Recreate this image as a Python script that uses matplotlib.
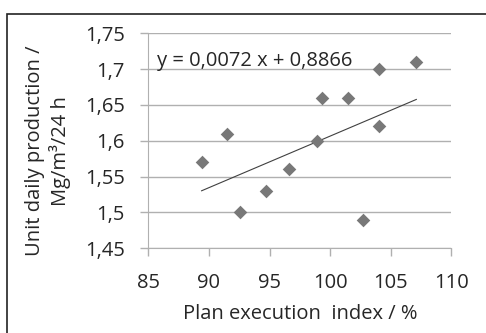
import matplotlib
matplotlib.use("Agg")
import matplotlib.pyplot as plt
from matplotlib.patches import Rectangle
import numpy as np

# Daten
plan_index = [89.4, 91.5, 92.6, 94.7, 96.6, 98.9, 99.3, 101.5, 102.7, 104.0, 104.0, 107.1]
production = [1.57, 1.61, 1.50, 1.53, 1.56, 1.60, 1.66, 1.66, 1.49, 1.70, 1.62, 1.71]
slope = 0.0072
intercept = 0.8866
x_ticks = [85, 90, 95, 100, 105, 110]
y_ticks = [1.45, 1.5, 1.55, 1.6, 1.65, 1.7, 1.75]
y_labels = ["1,45", "1,5", "1,55", "1,6", "1,65", "1,7", "1,75"]

plt.rcParams['font.family'] = ['Open Sans', 'DejaVu Sans']
fs = 14.5
text_color = "#262626"

fig = plt.figure(figsize=(4.86, 3.33), dpi=100)
ax = fig.add_axes([0.305, 0.2543, 0.624, 0.6457])

grid_color = "#b0b0b0"
ax.set_xlim(85, 110)
ax.set_ylim(1.45, 1.75)
ax.set_xticks(x_ticks)
ax.set_yticks(y_ticks)
ax.set_yticklabels(y_labels)
ax.yaxis.grid(True, color=grid_color, linewidth=1.0)
ax.set_axisbelow(True)
for side in ["top", "right"]:
    ax.spines[side].set_visible(False)
for side in ["left", "bottom"]:
    ax.spines[side].set_color(grid_color)
ax.tick_params(axis="both", colors=grid_color, length=6, width=1.0, labelsize=fs, labelcolor=text_color)
ax.tick_params(axis="x", pad=12)
ax.tick_params(axis="y", pad=11)

ax.scatter(plan_index, production, marker="D", s=48, color="#787878", zorder=3, linewidths=0)

# Trendlinie
xs = np.array([min(plan_index), max(plan_index)])
ax.plot(xs, slope * xs + intercept, color="#404040", linewidth=0.8, zorder=2)

ax.text(85.7, 1.705, "y = 0,0072 x + 0,8866", fontsize=fs, color=text_color)

ax.set_xlabel("Plan execution  index / %", fontsize=fs, color=text_color, labelpad=8)
ax.set_ylabel("Unit daily production /\nMg/m\u00b3/24 h", fontsize=fs, color=text_color, linespacing=1.2)
ax.yaxis.set_label_coords(-0.255, 0.453)

# Rahmen um die Grafik (rechts offen, unten abgeschnitten)
fig.patches.append(Rectangle((7 / 486, -0.05), 1.0, 1 - 14 / 333 + 0.05, transform=fig.transFigure,
                             fill=False, edgecolor="#222222", linewidth=1.2))

fig.savefig("out.png", dpi=100)
